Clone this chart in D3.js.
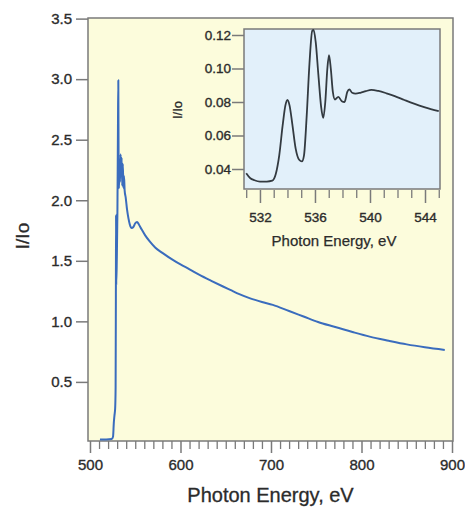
<!DOCTYPE html>
<html>
<head>
<meta charset="utf-8">
<script src="https://cdn.jsdelivr.net/npm/d3@7"></script>
<style>
  html, body { margin: 0; padding: 0; background: #ffffff; }
  svg { display: block; }
  text { font-family: "Liberation Sans", Arial, sans-serif; fill: #2b2b2b; }
</style>
</head>
<body>
<svg id="chart" width="465" height="507"></svg>
<script>
// O K-edge absorption spectrum: full range (energy in eV, I/Io)
const mainEnergy = [511, 518, 524, 525.5, 526.3, 527, 527.8, 528.3, 528.6, 528.8, 529.0, 529.6, 530.3, 530.9, 531.3, 531.6, 532, 532.6, 533.2, 533.8, 534.4, 535, 535.6, 536.3, 537, 537.6, 538.3, 539.5, 541, 542.5, 544, 546, 548, 550, 552, 554, 557, 561, 566, 572, 580, 592, 600, 610, 621, 634, 647, 655, 665, 677, 690, 702, 720, 736, 752, 769, 790, 809, 830, 850, 870, 892];
const mainIntensity = [0.025, 0.025, 0.028, 0.05, 0.16, 0.22, 0.28, 0.45, 1.2, 1.88, 1.3, 1.5, 1.9, 2.6, 2.99, 2.3, 2.1, 2.25, 2.15, 2.38, 2.2, 2.35, 2.12, 2.3, 2.1, 2.2, 2.08, 2.02, 1.92, 1.85, 1.8, 1.77, 1.78, 1.81, 1.82, 1.8, 1.76, 1.71, 1.66, 1.61, 1.565, 1.505, 1.47, 1.43, 1.384, 1.335, 1.288, 1.26, 1.225, 1.19, 1.16, 1.136, 1.085, 1.04, 0.995, 0.957, 0.912, 0.874, 0.84, 0.81, 0.786, 0.764];

// Near-edge detail (inset)
const insetEnergy = [531.0, 531.3, 531.6, 532.0, 532.5, 532.9, 533.15, 533.4, 533.65, 533.85, 534.0, 534.15, 534.35, 534.6, 534.85, 535.05, 535.2, 535.4, 535.6, 535.8, 535.9, 536.05, 536.25, 536.45, 536.6, 536.75, 536.9, 537.02, 537.15, 537.3, 537.45, 537.7, 537.95, 538.15, 538.35, 538.5, 538.7, 538.95, 539.3, 539.7, 540.1, 540.6, 541.2, 541.8, 542.5, 543.2, 544.0, 545.0];
const insetIntensity = [0.0375, 0.0345, 0.0333, 0.0325, 0.0325, 0.033, 0.037, 0.048, 0.066, 0.078, 0.0812, 0.078, 0.067, 0.052, 0.0455, 0.0445, 0.048, 0.072, 0.103, 0.1225, 0.123, 0.116, 0.096, 0.077, 0.0705, 0.08, 0.1, 0.108, 0.1, 0.086, 0.0815, 0.083, 0.0805, 0.08, 0.086, 0.0875, 0.0855, 0.085, 0.0855, 0.0865, 0.0872, 0.0866, 0.0852, 0.0835, 0.0812, 0.079, 0.0768, 0.0745];

// Tick values
const mainXTicks = [500, 600, 700, 800, 900];
const mainYTicks = [0.5, 1.0, 1.5, 2.0, 2.5, 3.0, 3.5];
const insetXTicks = [532, 536, 540, 544];
const insetYTicks = [0.04, 0.06, 0.08, 0.10, 0.12];

const svg = d3.select("#chart");
const axisGray = "#7a7a7a";

function styleLabels(g, size) {
  g.selectAll(".tick text")
    .attr("font-size", size)
    .attr("fill", "#2b2b2b")
    .attr("stroke", "#2b2b2b")
    .attr("stroke-width", 0.35)
    .attr("font-family", "Liberation Sans, Arial, sans-serif");
}

// ---------- main panel ----------
const M = { left: 88, right: 453, top: 18, bottom: 441 };
const x = d3.scaleLinear().domain([497.8, 901.1]).range([M.left, M.right]);
const y = d3.scaleLinear().domain([0.012, 3.505]).range([M.bottom, M.top]);

svg.append("rect")
  .attr("x", M.left).attr("y", M.top)
  .attr("width", M.right - M.left).attr("height", M.bottom - M.top)
  .attr("fill", "#fcfcdc").attr("stroke", axisGray).attr("stroke-width", 1.5);

// minor x ticks every 10 eV
const xMinor = d3.range(500, 901, 10).filter(v => v % 100 !== 0);
svg.append("g")
  .attr("transform", `translate(0,${M.bottom})`)
  .call(d3.axisBottom(x).tickValues(xMinor).tickSize(8).tickFormat(""))
  .call(g => g.select(".domain").remove())
  .call(g => g.selectAll(".tick line").attr("stroke", axisGray).attr("stroke-width", 1.3));

// major x ticks
svg.append("g")
  .attr("transform", `translate(0,${M.bottom})`)
  .call(d3.axisBottom(x).tickValues(mainXTicks).tickSize(12).tickPadding(6).tickFormat(d3.format("d")))
  .call(g => g.select(".domain").remove())
  .call(g => g.selectAll(".tick line").attr("stroke", axisGray).attr("stroke-width", 1.5))
  .call(g => styleLabels(g, 15));

// y ticks
svg.append("g")
  .attr("transform", `translate(${M.left},0)`)
  .call(d3.axisLeft(y).tickValues(mainYTicks).tickSize(12).tickPadding(4).tickFormat(d3.format(".1f")))
  .call(g => g.select(".domain").remove())
  .call(g => g.selectAll(".tick line").attr("stroke", axisGray).attr("stroke-width", 1.5))
  .call(g => styleLabels(g, 15));

const mainLine = d3.line()
  .x((d, i) => x(mainEnergy[i]))
  .y((d, i) => y(mainIntensity[i]))
  .curve(d3.curveMonotoneX);

svg.append("path")
  .datum(mainEnergy)
  .attr("d", mainLine)
  .attr("fill", "none")
  .attr("stroke", "#3a6cbd")
  .attr("stroke-width", 2)
  .attr("stroke-linejoin", "round");

svg.append("text")
  .attr("x", (M.left + M.right) / 2).attr("y", 502)
  .attr("text-anchor", "middle").attr("font-size", 20)
  .attr("stroke", "#2b2b2b").attr("stroke-width", 0.3)
  .text("Photon Energy, eV");

svg.append("text")
  .attr("transform", "translate(29,236) rotate(-90)")
  .attr("text-anchor", "middle").attr("font-size", 19)
  .attr("stroke", "#2b2b2b").attr("stroke-width", 0.3)
  .text("I/Io");

// ---------- inset panel ----------
const I = { left: 244, right: 440, top: 29, bottom: 189 };
const xi = d3.scaleLinear().domain([530.84, 545.09]).range([I.left, I.right]);
const yi = d3.scaleLinear().domain([0.02806, 0.12358]).range([I.bottom, I.top]);

svg.append("rect")
  .attr("x", I.left).attr("y", I.top)
  .attr("width", I.right - I.left).attr("height", I.bottom - I.top)
  .attr("fill", "#e2f0fa").attr("stroke", axisGray).attr("stroke-width", 1.5);

const xiMinor = d3.range(531, 546, 1).filter(v => !insetXTicks.includes(v));
svg.append("g")
  .attr("transform", `translate(0,${I.bottom + 1})`)
  .call(d3.axisBottom(xi).tickValues(xiMinor).tickSize(8).tickFormat(""))
  .call(g => g.select(".domain").remove())
  .call(g => g.selectAll(".tick line").attr("stroke", axisGray).attr("stroke-width", 1.3));

svg.append("g")
  .attr("transform", `translate(0,${I.bottom + 1})`)
  .call(d3.axisBottom(xi).tickValues(insetXTicks).tickSize(13).tickPadding(9).tickFormat(d3.format("d")))
  .call(g => g.select(".domain").remove())
  .call(g => g.selectAll(".tick line").attr("stroke", axisGray).attr("stroke-width", 1.5))
  .call(g => styleLabels(g, 13.5));

svg.append("g")
  .attr("transform", `translate(${I.left},0)`)
  .call(d3.axisLeft(yi).tickValues(insetYTicks).tickSize(12).tickPadding(1).tickFormat(d3.format(".2f")))
  .call(g => g.select(".domain").remove())
  .call(g => g.selectAll(".tick line").attr("stroke", axisGray).attr("stroke-width", 1.5))
  .call(g => styleLabels(g, 13.5));

const insetLine = d3.line()
  .x((d, i) => xi(insetEnergy[i]))
  .y((d, i) => yi(insetIntensity[i]))
  .curve(d3.curveMonotoneX);

svg.append("path")
  .datum(insetEnergy)
  .attr("d", insetLine)
  .attr("fill", "none")
  .attr("stroke", "#333a40")
  .attr("stroke-width", 1.8)
  .attr("stroke-linejoin", "round");

svg.append("text")
  .attr("x", (I.left + I.right) / 2 - 8).attr("y", 246)
  .attr("text-anchor", "middle").attr("font-size", 15)
  .attr("stroke", "#2b2b2b").attr("stroke-width", 0.25)
  .text("Photon Energy, eV");

svg.append("text")
  .attr("transform", "translate(182,110) rotate(-90)")
  .attr("text-anchor", "middle").attr("font-size", 13)
  .attr("stroke", "#2b2b2b").attr("stroke-width", 0.25)
  .text("I/Io");
</script>
</body>
</html>
